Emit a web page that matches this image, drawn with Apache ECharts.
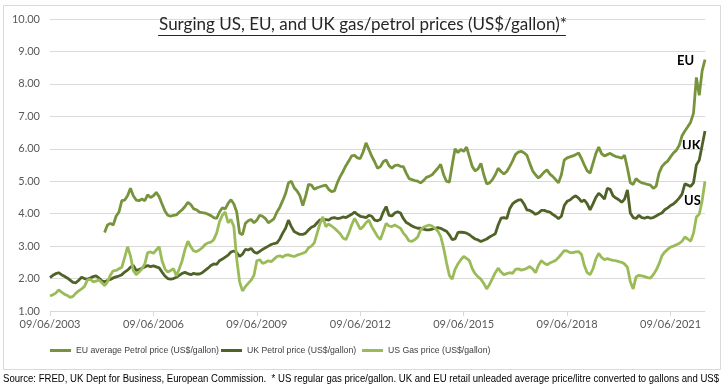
<!DOCTYPE html>
<html><head><meta charset="utf-8">
<script src="https://cdn.jsdelivr.net/npm/echarts@6/dist/echarts.min.js"></script>
<style>html,body{margin:0;padding:0;background:#fff}#c{width:726px;height:391px}</style>
</head><body><div id="c"></div>
<script>
// Monthly series, June 2003 .. June 2022
const startYear = 2003, startMonth = 6, monthCount = 229;
const tickLabels = ['09/06/2003','09/06/2006','09/06/2009','09/06/2012','09/06/2015','09/06/2018','09/06/2021'];
const tickEvery = 36;
const seriesNames = ['EU average Petrol price (US$/gallon)','UK Petrol price (US$/gallon)','US Gas price (US$/gallon)'];
const endLabels = ['EU','UK','US'];

const ukPrice = [
2.03,2.10,2.15,2.18,2.12,2.07,2.02,1.95,1.88,1.87,1.95,2.04,
2.00,1.98,2.02,2.06,2.08,2.02,1.93,1.90,1.94,1.97,2.02,2.05,
2.08,2.12,2.20,2.26,2.35,2.40,2.25,2.28,2.32,2.36,2.40,2.37,
2.39,2.36,2.33,2.20,2.08,2.00,1.98,2.00,2.04,2.10,2.16,2.19,
2.15,2.12,2.16,2.14,2.14,2.18,2.25,2.32,2.40,2.45,2.44,2.55,
2.60,2.66,2.72,2.82,2.85,2.80,2.68,2.75,2.90,2.88,2.93,2.82,
2.78,2.84,2.90,2.95,3.00,3.05,3.08,3.10,3.22,3.40,3.55,3.80,
3.60,3.45,3.40,3.36,3.36,3.40,3.50,3.58,3.62,3.72,3.81,3.80,
3.82,3.80,3.86,3.88,3.85,3.86,3.90,3.88,3.93,3.98,4.05,3.98,
3.92,3.90,3.88,3.95,3.92,3.80,3.78,3.82,4.05,4.22,3.95,3.93,
4.02,4.06,4.02,3.85,3.73,3.68,3.62,3.58,3.55,3.55,3.52,3.50,
3.50,3.52,3.55,3.57,3.55,3.50,3.46,3.35,3.20,3.22,3.42,3.43,
3.42,3.40,3.35,3.28,3.22,3.19,3.14,3.18,3.22,3.28,3.33,3.38,
3.65,3.86,3.88,3.85,4.15,4.30,4.37,4.42,4.43,4.30,4.12,4.10,
4.05,3.98,4.02,4.10,4.10,4.07,4.05,3.98,3.92,3.85,3.92,4.25,
4.38,4.42,4.50,4.55,4.48,4.37,4.42,4.30,4.12,4.30,4.50,4.63,
4.55,4.45,4.78,4.75,4.55,4.48,4.43,4.35,4.45,4.73,4.02,3.88,
3.85,3.95,3.88,3.86,3.90,3.86,3.88,3.93,3.98,4.02,4.12,4.18,
4.25,4.30,4.38,4.48,4.60,4.92,4.88,4.84,4.95,5.50,5.65,6.10,
6.55];

const usPrice = [
1.46,1.50,1.55,1.65,1.58,1.52,1.48,1.42,1.45,1.55,1.62,1.68,
1.76,1.95,1.98,1.90,1.92,1.96,1.88,1.78,1.90,2.10,2.24,2.25,
2.30,2.35,2.65,2.98,2.70,2.25,2.12,2.20,2.30,2.45,2.80,2.82,
2.78,2.88,2.98,2.55,2.30,2.20,2.25,2.30,2.08,2.30,2.55,2.90,
3.15,2.98,2.85,2.83,2.88,2.95,3.05,3.10,3.12,3.20,3.40,3.75,
3.95,4.05,3.72,3.82,3.60,2.60,1.90,1.62,1.75,1.85,1.95,2.10,
2.55,2.58,2.47,2.50,2.55,2.52,2.60,2.68,2.70,2.66,2.72,2.73,
2.70,2.68,2.72,2.75,2.78,2.82,2.95,3.00,3.10,3.40,3.70,3.90,
3.60,3.68,3.62,3.55,3.47,3.38,3.25,3.20,3.40,3.65,3.85,3.70,
3.52,3.60,3.72,3.80,3.60,3.45,3.30,3.20,3.45,3.70,3.62,3.60,
3.65,3.60,3.55,3.40,3.30,3.16,3.15,3.20,3.28,3.50,3.58,3.62,
3.65,3.62,3.55,3.46,3.30,2.95,2.50,2.10,1.98,2.28,2.45,2.58,
2.68,2.62,2.55,2.30,2.15,2.05,1.98,1.85,1.68,1.82,2.00,2.18,
2.32,2.20,2.12,2.15,2.18,2.16,2.28,2.30,2.26,2.28,2.32,2.37,
2.30,2.18,2.40,2.55,2.48,2.42,2.48,2.52,2.56,2.65,2.75,2.86,
2.85,2.80,2.80,2.82,2.83,2.75,2.40,2.18,2.12,2.30,2.60,2.78,
2.65,2.58,2.62,2.58,2.56,2.55,2.52,2.50,2.45,2.35,1.90,1.68,
2.05,2.10,2.08,2.06,2.03,2.01,2.12,2.26,2.45,2.70,2.82,2.90,
2.97,3.00,3.04,3.08,3.15,3.28,3.22,3.15,3.40,3.90,3.98,4.40,
5.00];

// EU series begins in January 2005 (month index 19)
const euStartIndex = 19;
const euPrice = [
3.42,3.65,3.70,3.65,3.92,
4.05,4.40,4.42,4.55,4.78,4.55,4.42,4.40,4.45,4.40,4.58,4.50,
4.55,4.66,4.52,4.30,4.08,3.95,3.92,3.95,3.96,4.05,4.12,4.22,
4.35,4.28,4.15,4.12,4.05,4.03,4.02,3.98,3.94,3.88,3.85,4.05,
4.18,4.15,4.32,4.43,4.30,4.05,3.40,3.35,3.70,3.78,3.82,3.72,
3.80,3.95,3.92,3.85,3.72,3.78,3.85,4.05,4.20,4.40,4.62,4.95,
5.00,4.80,4.70,4.55,4.25,4.55,4.90,4.88,4.75,4.80,4.83,4.86,
4.88,4.75,4.68,4.70,4.95,5.14,5.30,5.48,5.62,5.78,5.80,5.72,
5.70,5.90,6.18,5.98,5.77,5.60,5.40,5.45,5.60,5.66,5.48,5.40,
5.48,5.50,5.46,5.45,5.25,5.08,5.05,5.02,5.00,4.95,5.02,5.12,
5.15,5.20,5.30,5.40,5.52,5.20,5.00,4.97,5.50,6.00,5.88,5.98,
5.92,6.05,5.75,5.45,5.32,5.38,5.55,5.20,4.92,4.95,5.05,5.20,
5.40,5.30,5.22,5.30,5.45,5.62,5.82,5.90,5.92,5.88,5.80,5.55,
5.32,5.20,5.10,5.18,5.28,5.35,5.22,5.15,5.05,4.95,5.20,5.65,
5.72,5.75,5.78,5.82,5.87,5.70,5.50,5.32,5.25,5.55,5.85,6.05,
5.85,5.78,5.82,5.86,5.80,5.76,5.74,5.71,5.80,5.40,4.95,4.90,
5.08,5.00,4.95,4.93,4.90,4.88,4.78,4.85,5.25,5.45,5.55,5.62,
5.75,5.87,5.95,6.10,6.40,6.55,6.68,6.82,7.10,8.20,7.65,8.40,
8.75];

const titleText = 'Surging US, EU, and UK gas/petrol prices (US$/gallon)*';
const sourceText = 'Source: FRED, UK Dept for Business, European Commission.  * US regular gas price/gallon. UK and EU retail unleaded average price/litre converted to gallons and US$';

// build category list (months)
const categories = [];
for (let i = 0; i < monthCount; i++) {
  const mm = startMonth - 1 + i;
  const y = startYear + Math.floor(mm / 12);
  const m = (mm % 12) + 1;
  categories.push(y + '-' + (m < 10 ? '0' + m : m));
}
const euFull = [];
for (let i = 0; i < monthCount; i++) euFull.push(i < euStartIndex ? null : euPrice[i - euStartIndex]);

const mctx = document.createElement('canvas').getContext('2d');
function textWidth(t, font) { mctx.font = font; return mctx.measureText(t).width; }

const legendFamily = 'Liberation Sans';
const legendW10 = textWidth(seriesNames[0], '10px "' + legendFamily + '"');
const legendSize = Math.min(10, Math.round(10 * 143 / legendW10 * 10) / 10);
const legendLefts = [50, 221, 362];

const titleFont = 'Lato';
const titleSize = 17;
const titleW = textWidth(titleText, titleSize + 'px ' + titleFont);
const titleCx = 362;

const srcFont = '10px "Liberation Sans", sans-serif';
const srcW = textWidth(sourceText, srcFont);
const srcScale = Math.min(1, 716 / srcW);

const colors = ['#77933C', '#4F6228', '#9BBB59'];

const legends = seriesNames.map((n, i) => ({
  left: legendLefts[i], top: 346,
  itemWidth: 21, itemHeight: 3, icon: 'rect', padding: 0,
  textStyle: { fontFamily: legendFamily, fontSize: legendSize, color: '#404040' },
  data: [n]
}));

const chart = echarts.init(document.getElementById('c'), null, { renderer: 'canvas' });
chart.setOption({
  animation: false,
  backgroundColor: '#ffffff',
  title: {
    text: titleText,
    left: 'center',
    top: 16,
    padding: 0,
    textStyle: { fontFamily: titleFont, fontSize: titleSize, fontWeight: 'normal', color: '#262626' }
  },
  legend: legends,
  grid: { left: 50, right: 21, top: 19, bottom: 80, containLabel: false, outerBoundsMode: 'none' },
  xAxis: {
    type: 'category',
    boundaryGap: false,
    data: categories,
    axisLine: { show: true, lineStyle: { color: '#d9d9d9', width: 1 } },
    axisTick: { show: true, length: 5, interval: (i) => i % tickEvery === 0, lineStyle: { color: '#d9d9d9' } },
    axisLabel: {
      interval: (i) => i % tickEvery === 0,
      formatter: (v, i) => tickLabels[Math.round(i / tickEvery)] || '',
      margin: 8,
      fontFamily: 'Lato', fontSize: 11, color: '#595959'
    },
    splitLine: { show: false }
  },
  yAxis: {
    type: 'value', min: 1, max: 10, interval: 1,
    axisLine: { show: false }, axisTick: { show: false },
    axisLabel: { formatter: (v) => v.toFixed(2), margin: 10, fontFamily: 'Lato', fontSize: 11, color: '#595959' },
    splitLine: { show: true, lineStyle: { color: '#d9d9d9', width: 1 } }
  },
  series: [
    { name: seriesNames[0], type: 'line', data: euFull, showSymbol: false, symbol: 'none', connectNulls: false,
      lineStyle: { color: colors[0], width: 2.8 }, itemStyle: { color: colors[0] } },
    { name: seriesNames[1], type: 'line', data: ukPrice, showSymbol: false, symbol: 'none',
      lineStyle: { color: colors[1], width: 2.8 }, itemStyle: { color: colors[1] } },
    { name: seriesNames[2], type: 'line', data: usPrice, showSymbol: false, symbol: 'none',
      lineStyle: { color: colors[2], width: 2.8 }, itemStyle: { color: colors[2] } }
  ],
  graphic: [
    { type: 'rect', silent: true, z: -10, shape: { x: 3.5, y: 5.5, width: 717, height: 364 },
      style: { fill: null, stroke: '#d9d9d9', lineWidth: 1 } },
    { type: 'line', silent: true, shape: { x1: titleCx - titleW / 2, y1: 35.5, x2: titleCx + titleW / 2, y2: 35.5 },
      style: { stroke: '#262626', lineWidth: 1 } },
    { type: 'text', silent: true, x: 677, y: 61, style: { text: endLabels[0], font: 'bold 13px Lato', fill: '#000', verticalAlign: 'middle' } },
    { type: 'text', silent: true, x: 682, y: 146, style: { text: endLabels[1], font: 'bold 13px Lato', fill: '#000', verticalAlign: 'middle' } },
    { type: 'text', silent: true, x: 684, y: 201, style: { text: endLabels[2], font: 'bold 13px Lato', fill: '#000', verticalAlign: 'middle' } },
    { type: 'text', silent: true, x: 3, y: 379, scaleX: srcScale, originX: 0,
      style: { text: sourceText, font: srcFont, fill: '#000', verticalAlign: 'middle' } }
  ]
});
</script>
</body></html>
